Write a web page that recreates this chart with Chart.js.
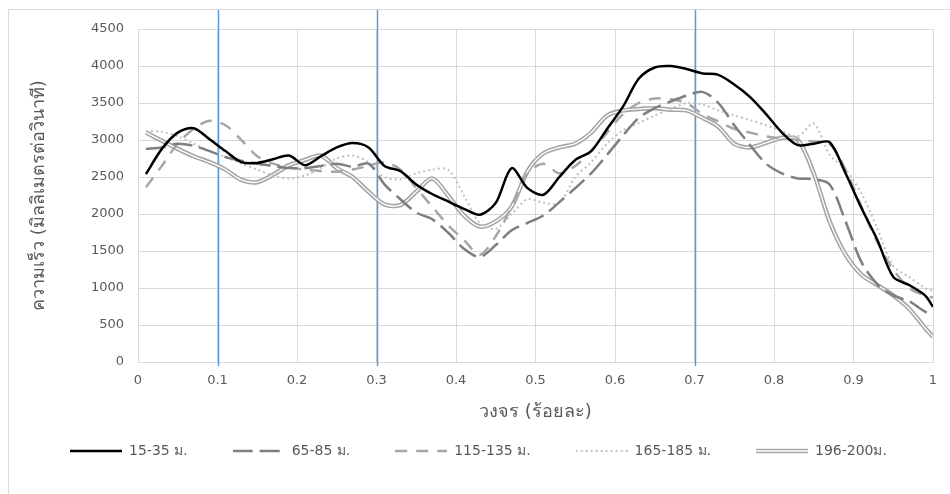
<!DOCTYPE html>
<html>
<head>
<meta charset="utf-8">
<script src="https://cdn.jsdelivr.net/npm/chart.js@4.4.1/dist/chart.umd.min.js"></script>
<style>
html, body { margin: 0; padding: 0; background: #fff; overflow: hidden; }
#frame { position: absolute; left: 8px; top: 9px; width: 1000px; height: 600px; border: 1px solid #d9d9d9; }
#wrap { position: absolute; left: 0; top: 0; width: 950px; height: 494px; }
</style>
</head>
<body>
<div id="frame"></div>
<div id="wrap"><canvas id="chart" width="950" height="494"></canvas></div>
<script>
// รอบวงจร (สัดส่วน 0-1)
const cycle = [0.01,0.03,0.05,0.07,0.09,0.11,0.13,0.15,0.17,0.19,0.21,0.23,0.25,0.27,0.29,0.31,0.33,0.35,0.37,0.39,0.41,0.43,0.45,0.47,0.49,0.51,0.53,0.55,0.57,0.59,0.61,0.63,0.65,0.67,0.69,0.71,0.73,0.75,0.77,0.79,0.81,0.83,0.85,0.87,0.89,0.91,0.93,0.95,0.97,0.99,1.0];

const v15_35 = [2540,2880,3100,3160,3010,2850,2700,2690,2740,2790,2660,2780,2900,2960,2900,2650,2580,2400,2270,2170,2070,1990,2150,2620,2350,2260,2500,2730,2850,3150,3450,3830,3980,4000,3960,3900,3880,3750,3580,3350,3100,2930,2950,2970,2550,2080,1650,1150,1040,900,745];
const v65_85 = [2880,2900,2950,2920,2850,2770,2720,2680,2650,2620,2620,2650,2680,2640,2680,2400,2200,2020,1930,1750,1530,1420,1580,1780,1880,1980,2160,2350,2550,2800,3060,3300,3430,3520,3600,3650,3500,3200,2930,2680,2550,2480,2470,2400,1900,1350,1050,900,820,680,630];
const v115_135 = [2360,2650,2950,3150,3260,3200,3000,2780,2680,2630,2600,2580,2570,2600,2650,2700,2600,2350,2100,1850,1650,1450,1700,2100,2550,2680,2550,2650,2850,3100,3350,3500,3560,3550,3500,3350,3250,3150,3100,3050,3020,3000,2980,2950,2600,2100,1620,1250,1000,900,870];
const v165_185 = [3120,3110,3050,2950,2850,2770,2680,2600,2520,2480,2520,2620,2750,2790,2700,2500,2470,2550,2600,2600,2250,1880,1800,2000,2200,2150,2150,2500,2700,2950,3130,3230,3330,3420,3500,3480,3400,3330,3270,3200,3120,3050,3220,2800,2600,2280,1800,1300,1150,1000,960];
const v196_200 = [3100,2990,2880,2780,2700,2600,2460,2430,2530,2660,2730,2790,2620,2500,2300,2130,2120,2300,2480,2250,1980,1830,1900,2100,2580,2820,2900,2950,3100,3330,3400,3420,3430,3410,3400,3300,3180,2950,2900,2960,3030,3000,2550,1900,1450,1180,1040,900,720,460,340];

const seriesNames = ['15-35 ม.', '65-85 ม.', '115-135 ม.', '165-185 ม.', '196-200ม.'];
const xTickLabels = ['0','0.1','0.2','0.3','0.4','0.5','0.6','0.7','0.8','0.9','1'];
const markers = [0.1, 0.3, 0.7]; // เส้นแบ่งช่วงวงจร

const FONT = "'DejaVu Sans', 'Noto Sans', sans-serif";
const GREY_TEXT = '#595959';

// สไตล์เส้นของแต่ละชุด (double = เส้นคู่)
const lineStyles = [
    { color: '#000000', width: 2.5, dash: [] },
    { color: '#7f7f7f', width: 2.5, dash: [20, 7] },
    { color: '#a6a6a6', width: 2.5, dash: [12, 9] },
    { color: '#c0c0c0', width: 2, dash: [2, 3] },
    { color: '#a6a6a6', width: 4.5, dash: [], double: true }
];

const pts = (ys) => cycle.map((x, i) => ({ x: x, y: ys[i] }));

// ตัวอย่างเส้นในคำอธิบายสัญลักษณ์
function sample(st) {
    const c = document.createElement('canvas');
    c.width = 52;
    c.height = 10;
    const g = c.getContext('2d');
    g.strokeStyle = st.color;
    g.lineWidth = st.width;
    g.setLineDash(st.dash);
    g.beginPath();
    g.moveTo(0, 5);
    g.lineTo(52, 5);
    g.stroke();
    if (st.double) {
        g.strokeStyle = '#ffffff';
        g.lineWidth = 1.3;
        g.beginPath();
        g.moveTo(0, 5);
        g.lineTo(52, 5);
        g.stroke();
    }
    return c;
}

//เส้นแนวตั้งสีฟ้า
const markerLines = {
    id: 'markerLines',
    beforeDatasetsDraw(chart) {
        const { ctx, scales: { x }, chartArea } = chart;
        ctx.save();
        ctx.strokeStyle = '#5b9bd5';
        ctx.lineWidth = 1.5;
        markers.forEach((m) => {
            const px = Math.round(x.getPixelForValue(m)) + 0.5;
            ctx.beginPath();
            ctx.moveTo(px, 10);
            ctx.lineTo(px, chartArea.bottom + 4);
            ctx.stroke();
        });
        ctx.restore();
    }
};

const ds = (i, ys) => ({
    label: seriesNames[i],
    data: pts(ys),
    borderColor: lineStyles[i].color,
    borderWidth: lineStyles[i].width,
    borderDash: lineStyles[i].dash
});

new Chart(document.getElementById('chart').getContext('2d'), {
    type: 'line',
    data: {
        datasets: [
            ds(0, v15_35),
            ds(1, v65_85),
            ds(2, v115_135),
            ds(3, v165_185),
            { label: '_inner', data: pts(v196_200), borderColor: '#ffffff', borderWidth: 1.3 },
            ds(4, v196_200)
        ]
    },
    options: {
        responsive: false,
        animation: false,
        devicePixelRatio: 1,
        elements: {
            point: { radius: 0, hoverRadius: 0 },
            line: { tension: 0.3, fill: false, borderCapStyle: 'butt' }
        },
        layout: { padding: { left: 24, top: 29, right: 17, bottom: 26 } },
        scales: {
            x: {
                type: 'linear',
                min: 0,
                max: 1,
                afterFit: (s) => { s.height = 37; },
                ticks: {
                    stepSize: 0.1,
                    padding: 11,
                    color: GREY_TEXT,
                    font: { family: FONT, size: 13 },
                    callback: (v) => xTickLabels[Math.round(v * 10)]
                },
                grid: { color: '#d9d9d9', drawTicks: false },
                border: { color: '#d9d9d9' },
                title: {
                    display: true,
                    text: 'วงจร (ร้อยละ)',
                    color: GREY_TEXT,
                    font: { family: FONT, size: 18 },
                    padding: { top: 0, bottom: -23.8 }
                }
            },
            y: {
                min: 0,
                max: 4500,
                afterFit: (s) => { s.width = 114; },
                ticks: {
                    stepSize: 500,
                    padding: 14,
                    color: GREY_TEXT,
                    font: { family: FONT, size: 13 },
                    callback: (v) => String(v)
                },
                grid: { color: '#d9d9d9', drawTicks: false },
                border: { color: '#d9d9d9' },
                title: {
                    display: true,
                    text: 'ความเร็ว (มิลลิเมตรต่อวินาที)',
                    color: GREY_TEXT,
                    font: { family: FONT, size: 18 },
                    padding: { top: 5, bottom: 0 }
                }
            }
        },
        plugins: {
            tooltip: { enabled: false },
            legend: {
                position: 'bottom',
                labels: {
                    usePointStyle: true,
                    pointStyleWidth: 52,
                    padding: 45,
                    color: GREY_TEXT,
                    font: { family: FONT, size: 14 },
                    generateLabels: () => lineStyles.map((st, i) => ({
                        text: seriesNames[i],
                        pointStyle: sample(st),
                        fontColor: GREY_TEXT,
                        lineWidth: 0,
                        strokeStyle: 'rgba(0,0,0,0)',
                        fillStyle: 'rgba(0,0,0,0)',
                        hidden: false,
                        datasetIndex: i
                    }))
                }
            }
        }
    },
    plugins: [markerLines]
});
</script>
</body>
</html>
